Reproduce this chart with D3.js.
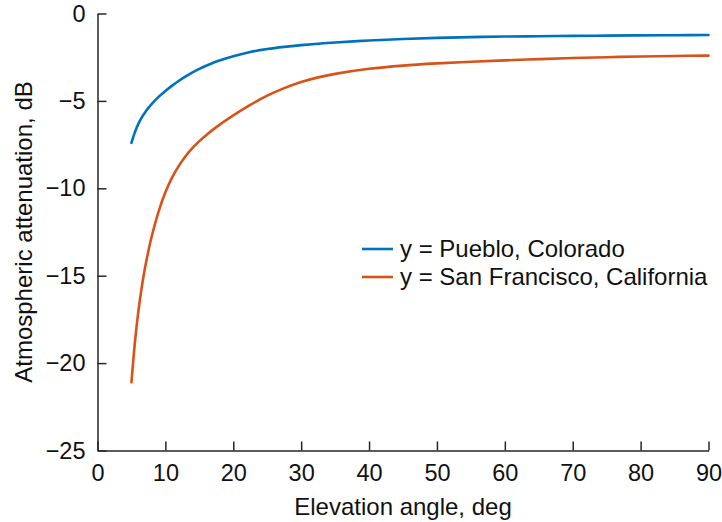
<!DOCTYPE html>
<html>
<head>
<meta charset="utf-8">
<script src="https://cdn.jsdelivr.net/npm/d3@7"></script>
<style>
  body { margin: 0; background: #fff; }
  svg text { font-family: "Liberation Sans", Arial, sans-serif; fill: #111; }
  .axis path, .axis line { stroke: #262626; stroke-width: 1.5; }
  .axis text { font-size: 23.5px; }
</style>
</head>
<body>
<div id="chart"></div>
<script>
// elevation angle, deg
const angles = [5, 5.5, 6, 6.5, 7, 7.5, 8, 9, 10, 11, 12, 13, 14, 15, 16, 17.5, 20, 22.5, 25, 27.5, 30, 32.5, 35, 40, 45, 50, 55, 60, 65, 70, 75, 80, 85, 90];
// attenuation, dB
const pueblo = [-7.4, -6.8, -6.33, -5.96, -5.66, -5.4, -5.17, -4.77, -4.43, -4.125, -3.845, -3.595, -3.37, -3.17, -2.99, -2.75, -2.44, -2.2, -2.035, -1.91, -1.81, -1.727, -1.657, -1.547, -1.462, -1.397, -1.352, -1.32, -1.3, -1.28, -1.265, -1.25, -1.24, -1.23];
const sanFrancisco = [-21.1, -18.85, -17.1, -15.7, -14.55, -13.58, -12.73, -11.33, -10.23, -9.38, -8.7, -8.15, -7.69, -7.3, -6.96, -6.5, -5.83, -5.23, -4.7, -4.27, -3.92, -3.655, -3.455, -3.165, -2.98, -2.855, -2.76, -2.68, -2.61, -2.55, -2.5, -2.46, -2.43, -2.41];

const seriesNames = ['y = Pueblo, Colorado', 'y = San Francisco, California'];
const seriesColors = ['#0072BD', '#D95319'];
const xTicks = [0, 10, 20, 30, 40, 50, 60, 70, 80, 90];
const yTicks = [0, -5, -10, -15, -20, -25];

const width = 722, height = 522;
const margin = { top: 13.5, right: 13.5, bottom: 71.5, left: 97.5 };
const innerW = width - margin.left - margin.right;
const innerH = height - margin.top - margin.bottom;

const svg = d3.select('#chart').append('svg')
  .attr('width', width)
  .attr('height', height);

const chart = svg.append('g')
  .attr('transform', `translate(${margin.left},${margin.top})`);

const x = d3.scaleLinear().domain([0, 90]).range([0, innerW]);
const y = d3.scaleLinear().domain([-25, 0]).range([innerH, 0]);

// axes, ticks point inward
chart.append('g')
  .attr('class', 'axis x-axis')
  .attr('transform', `translate(0,${innerH})`)
  .call(d3.axisBottom(x).tickValues(xTicks).tickSizeInner(-9).tickSizeOuter(0).tickPadding(14));

chart.append('g')
  .attr('class', 'axis y-axis')
  .call(d3.axisLeft(y).tickValues(yTicks).tickSizeInner(-9).tickSizeOuter(0).tickPadding(12));

// lines
const line = d3.line()
  .x(d => x(d[0]))
  .y(d => y(d[1]))
  .curve(d3.curveCatmullRom.alpha(0.5));

[pueblo, sanFrancisco].forEach((vals, i) => {
  chart.append('path')
    .datum(angles.map((a, j) => [a, vals[j]]))
    .attr('fill', 'none')
    .attr('stroke', seriesColors[i])
    .attr('stroke-width', 2.6)
    .attr('stroke-linecap', 'round')
    .attr('d', line);
});

// legend
const legend = svg.append('g').attr('transform', 'translate(362,249)');
seriesNames.forEach((name, i) => {
  const row = legend.append('g').attr('transform', `translate(0,${i * 28})`);
  row.append('line')
    .attr('x1', 0).attr('x2', 31)
    .attr('stroke', seriesColors[i])
    .attr('stroke-width', 2.6);
  row.append('text')
    .attr('x', 38)
    .attr('dy', '0.35em')
    .style('font-size', '24px')
    .text(name);
});

// axis titles
svg.append('text')
  .attr('x', margin.left + innerW / 2)
  .attr('y', 515)
  .attr('text-anchor', 'middle')
  .style('font-size', '24px')
  .text('Elevation angle, deg');

svg.append('text')
  .attr('transform', 'rotate(-90)')
  .attr('x', -(margin.top + innerH / 2))
  .attr('y', 32)
  .attr('text-anchor', 'middle')
  .style('font-size', '24px')
  .text('Atmospheric attenuation, dB');
</script>
</body>
</html>
